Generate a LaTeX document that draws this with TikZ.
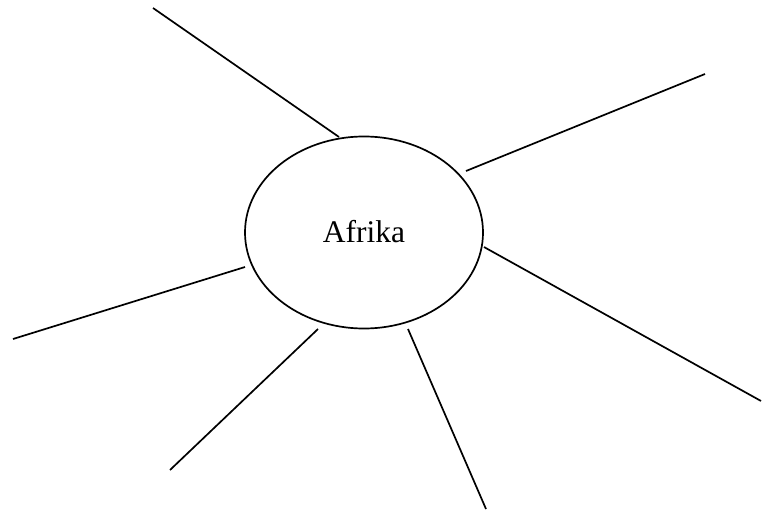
\documentclass[tikz,border=0pt]{standalone}
\usepackage{fontspec}
\setmainfont{Liberation Serif}
\usetikzlibrary{shapes.geometric}
\begin{document}
\begin{tikzpicture}[x=1pt,y=-1pt,line width=1.7pt,
  kreis/.style={draw,ellipse,minimum width=238pt,minimum height=192pt,inner sep=0pt,
    font=\fontsize{31.5}{36}\selectfont}]
\useasboundingbox (0,0) rectangle (763,511);
\node[kreis] (afr) at (364,232.5) {\raisebox{2pt}{Afrika}};

\coordinate (i1) at (339,137);  \coordinate (o1) at (153,8);
\coordinate (i2) at (466,171);  \coordinate (o2) at (705,74);
\coordinate (i3) at (484,247);  \coordinate (o3) at (761,401);
\coordinate (i4) at (408,329);  \coordinate (o4) at (486,509);
\coordinate (i5) at (318,329);  \coordinate (o5) at (170,470);
\coordinate (i6) at (245,267);  \coordinate (o6) at (13,339);

\foreach \k in {1,...,6}
  \draw (i\k) -- (o\k);
\end{tikzpicture}
\end{document}
